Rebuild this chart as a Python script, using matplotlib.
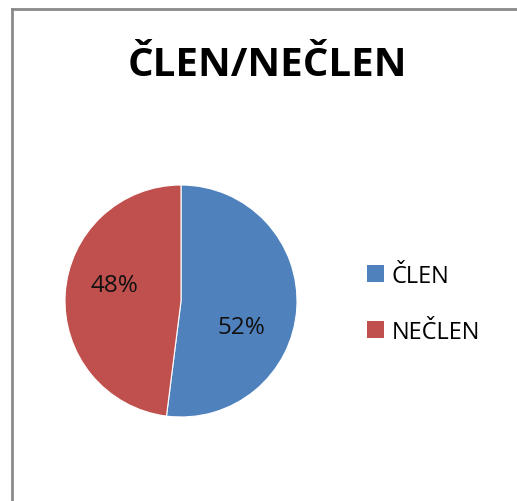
import matplotlib
matplotlib.use("Agg")
import matplotlib.pyplot as plt
from matplotlib.lines import Line2D
from matplotlib.patches import Patch

categories = ["ČLEN", "NEČLEN"]
values = [52, 48]
colors = ["#4F81BD", "#C0504D"]
title = "ČLEN/NEČLEN"

W, H = 517, 502
fig = plt.figure(figsize=(W / 100, H / 100), dpi=100)
fig.patch.set_facecolor("white")

# chart frame (left and top edges visible)
fig.add_artist(Line2D([11.5 / W, 11.5 / W], [0, 1 - 10 / H], transform=fig.transFigure,
                      color="#8a8a8a", lw=2))
fig.add_artist(Line2D([11.5 / W, 1], [1 - 10 / H, 1 - 10 / H], transform=fig.transFigure,
                      color="#8a8a8a", lw=2))

fig.text(267 / W, 1 - 66 / H, title, ha="center", va="center",
         fontsize=29, fontweight="bold", family=["Open Sans", "DejaVu Sans"])

cx, cy, r = 181, 302, 116
ax = fig.add_axes([(cx - r) / W, 1 - (cy + r) / H, 2 * r / W, 2 * r / H])
wedges, _ = ax.pie(values, colors=colors, startangle=90, counterclock=False,
                   radius=1, wedgeprops=dict(edgecolor="white", linewidth=0.8))
ax.set_xlim(-1, 1)
ax.set_ylim(-1, 1)
ax.set_aspect("auto")
ax.axis("off")

label_pos = [(0.52, -0.22), (-0.57, 0.14)]
for v, (x, y) in zip(values, label_pos):
    ax.text(x, y, f"{v}%", ha="center", va="center", fontsize=17.5,
            family=["Open Sans", "DejaVu Sans"], color="#111111")

handles = [Patch(facecolor=c, edgecolor="none") for c in colors]
leg = fig.legend(handles, categories, loc="center left",
                 bbox_to_anchor=(346 / W, 1 - 305 / H), frameon=False,
                 prop=dict(family=["Open Sans", "DejaVu Sans"], size=17),
                 handlelength=0.72, handleheight=0.72, handletextpad=0.3,
                 labelspacing=1.35)

fig.savefig("out.png", dpi=100, facecolor="white")
